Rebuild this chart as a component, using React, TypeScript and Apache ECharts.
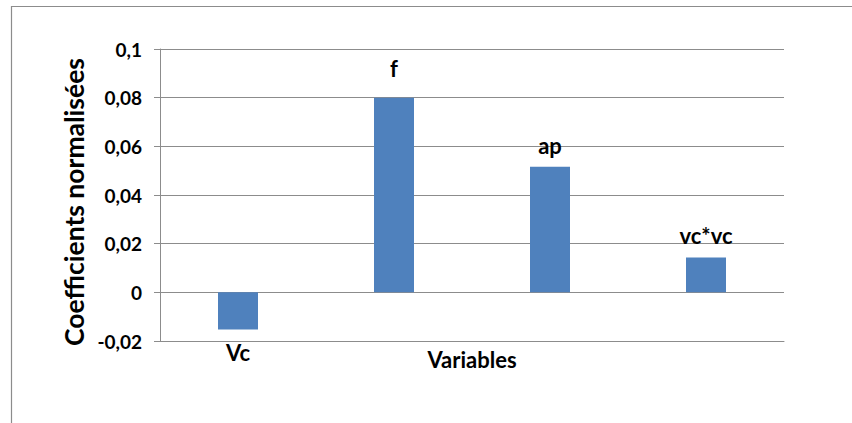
import React, { useEffect, useRef } from "react";
import * as echarts from "echarts";

const categories = ["Vc", "f", "ap", "vc*vc"];
const coefficients = [-0.0153, 0.08, 0.0516, 0.0143];
const yTickValues = [-0.02, 0, 0.02, 0.04, 0.06, 0.08, 0.1];
const yTickLabels = ["-0,02", "0", "0,02", "0,04", "0,06", "0,08", "0,1"];
const yAxisTitle = "Coefficients normalisées";
const xAxisTitle = "Variables";

const FONT = "Lato";

export default function App() {
  const ref = useRef<HTMLDivElement>(null);
  useEffect(() => {
    if (!ref.current) return;
    const chart = echarts.init(ref.current, null, { renderer: "svg" });
    const labelDistances = [12, 18, 10, 11];
    const option = {
      animation: false,
      backgroundColor: "#ffffff",
      grid: { left: 160, right: 68, top: 49, bottom: 82, containLabel: false },
      graphic: [
        {
          type: "rect",
          shape: { x: 11.5, y: 6.5, width: 900, height: 500 },
          style: { fill: "none", stroke: "#8c8c8c", lineWidth: 1.2 },
          silent: true,
        },
        {
          type: "text",
          x: 74,
          y: 202,
          rotation: Math.PI / 2,
          silent: true,
          style: {
            text: yAxisTitle,
            fontFamily: FONT,
            fontSize: 26.5,
            fontWeight: "bold",
            fill: "#000",
            align: "center",
            verticalAlign: "middle",
          },
        },
      ],
      xAxis: {
        type: "category",
        data: categories,
        boundaryGap: true,
        name: xAxisTitle,
        nameLocation: "middle",
        nameGap: 7,
        nameTextStyle: {
          fontFamily: FONT,
          fontSize: 22,
          fontWeight: "bold",
          color: "#000",
          verticalAlign: "top",
        },
        axisLine: { show: true, onZero: false, lineStyle: { color: "#8c8c8c", width: 1 } },
        axisTick: { show: false },
        axisLabel: { show: false },
        splitLine: { show: false },
      },
      yAxis: {
        type: "value",
        min: -0.02,
        max: 0.1,
        interval: 0.02,
        axisLine: { show: true, lineStyle: { color: "#8c8c8c", width: 1 } },
        axisTick: { show: true, inside: false, length: 6, lineStyle: { color: "#8c8c8c" } },
        axisLabel: {
          margin: 18,
          fontFamily: FONT,
          fontSize: 19,
          fontWeight: "bold",
          color: "#000",
          formatter: (v: number) => {
            let idx = 0;
            let best = Infinity;
            yTickValues.forEach((t, i) => {
              const d = Math.abs(t - v);
              if (d < best) {
                best = d;
                idx = i;
              }
            });
            return yTickLabels[idx];
          },
        },
        splitLine: { show: true, lineStyle: { color: "#8c8c8c", width: 1 } },
      },
      series: [
        {
          type: "bar",
          barWidth: 40,
          itemStyle: { color: "#4f81bd" },
          data: coefficients.map((v, i) => ({
            value: v,
            label: {
              show: true,
              position: v < 0 ? "bottom" : "top",
              distance: labelDistances[i],
              formatter: categories[i],
              fontFamily: FONT,
              fontSize: 22,
              fontWeight: "bold",
              color: "#000",
            },
          })),
        },
      ],
    };
    chart.setOption(option as any);
    return () => chart.dispose();
  }, []);
  return (
    <div
      ref={ref}
      style={{ position: "absolute", left: 0, top: 0, width: 852, height: 423 }}
    />
  );
}
